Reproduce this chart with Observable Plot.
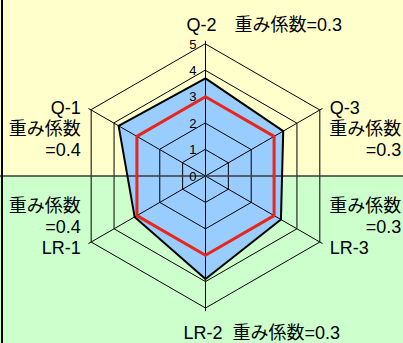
<!DOCTYPE html>
<html><head><meta charset="utf-8">
<script src="https://cdn.jsdelivr.net/npm/d3@7"></script>
<script src="https://cdn.jsdelivr.net/npm/@observablehq/plot@0.6"></script>
<style>html,body{margin:0;padding:0;background:#fff;overflow:hidden}</style>
</head><body><div id="chart"></div>
<script>
// ---- data ----
const axes = ["Q-2", "Q-3", "LR-3", "LR-2", "LR-1", "Q-1"];
const weights = [0.3, 0.3, 0.3, 0.3, 0.4, 0.4];
const actual = [3.7, 3.4, 3.3, 3.9, 3.1, 3.8];
const target = [3, 3, 3, 3, 3, 3];
const levels = [1, 2, 3, 4, 5];
const tickLabels = ["0", "1", "2", "3", "4", "5"];
const maxLevel = 5;

// ---- geometry ----
const W = 403, H = 343, cx = 205, cy = 175.5, unit = 26.4;
const xDom = [-cx / unit, (W - cx) / unit];
const yDom = [-(H - cy) / unit, cy / unit];
const ang = i => (90 - 60 * i) * Math.PI / 180;
const px = (i, r) => r * Math.cos(ang(i));
const py = (i, r) => r * Math.sin(ang(i));
const idx = axes.map((_, i) => i);

const poly = vals => vals.map((v, i) => ({x: px(i, v), y: py(i, v)}));
const grid = levels.flatMap(l => idx.map(i => ({x: px(i, l), y: py(i, l), level: l})));
const spokes = idx.map(i => ({x2: px(i, maxLevel + 0.12), y2: py(i, maxLevel + 0.12)}));

const font = "'Liberation Sans','Noto Sans CJK JP',sans-serif";
const ink = "#000";
const lh = 21 / 18;

function label(i, text, opts) {
  return Plot.text([i], {
    x: d => px(d, maxLevel), y: d => py(d, maxLevel),
    text: () => text, fontSize: 18, fill: ink, lineAnchor: "bottom", lineHeight: lh,
    ...opts
  });
}

const chart = Plot.plot({
  width: W, height: H, margin: 0,
  x: {domain: xDom, axis: null},
  y: {domain: yDom, axis: null},
  style: {fontFamily: font, background: "none"},
  marks: [
    Plot.rect([0], {x1: xDom[0], x2: xDom[1], y1: 0, y2: yDom[1], fill: "#ffffcc"}),
    Plot.rect([0], {x1: xDom[0], x2: xDom[1], y1: yDom[0], y2: 0, fill: "#ccffcc"}),
    Plot.line(poly(actual), {x: "x", y: "y", curve: "linear-closed", fill: "#99ccff", stroke: "none"}),
    Plot.line(grid, {x: "x", y: "y", z: "level", curve: "linear-closed", stroke: "#000", strokeWidth: 1}),
    Plot.link(spokes, {x1: 0, y1: 0, x2: "x2", y2: "y2", stroke: "#000", strokeWidth: 1}),
    Plot.ruleY([0], {stroke: "#3a3a3a", strokeWidth: 1.5}),
    Plot.line(poly(actual), {x: "x", y: "y", curve: "linear-closed", stroke: "#000", strokeWidth: 2}),
    Plot.line(poly(target), {x: "x", y: "y", curve: "linear-closed", stroke: "#e8261a", strokeWidth: 3}),
    Plot.text(tickLabels, {x: 0, y: (d, i) => i, text: d => d, textAnchor: "end", dx: -9, dy: 0.5, fontSize: 13, fill: ink}),
    // axis labels
    label(0, `${axes[0]}\u3000重み係数=${weights[0]}`, {textAnchor: "start", dx: -19, dy: -13.5}),
    label(5, `${axes[5]}\n重み係数\n=${weights[5]}`, {textAnchor: "end", dx: -10.5, dy: 46}),
    label(4, `重み係数\n=${weights[4]}\n${axes[4]}`, {textAnchor: "end", dx: -10.5, dy: 11.5}),
    label(1, `${axes[1]}`, {textAnchor: "start", dx: 10, dy: 4}),
    label(1, `重み係数\n=${weights[1]}`, {textAnchor: "end", dx: 81.5, dy: 46}),
    label(2, `重み係数\n=${weights[2]}`, {textAnchor: "end", dx: 81.5, dy: -9.5}),
    label(2, `${axes[2]}`, {textAnchor: "start", dx: 10, dy: 11.5}),
    label(3, `${axes[3]}\u00a0\u00a0重み係数=${weights[3]}`, {textAnchor: "start", dx: -22, dy: 30.5}),
    Plot.ruleX([xDom[0]], {stroke: "#000", strokeWidth: 2, dx: 1.5})
  ]
});
document.getElementById("chart").appendChild(chart);
</script>
</body></html>
